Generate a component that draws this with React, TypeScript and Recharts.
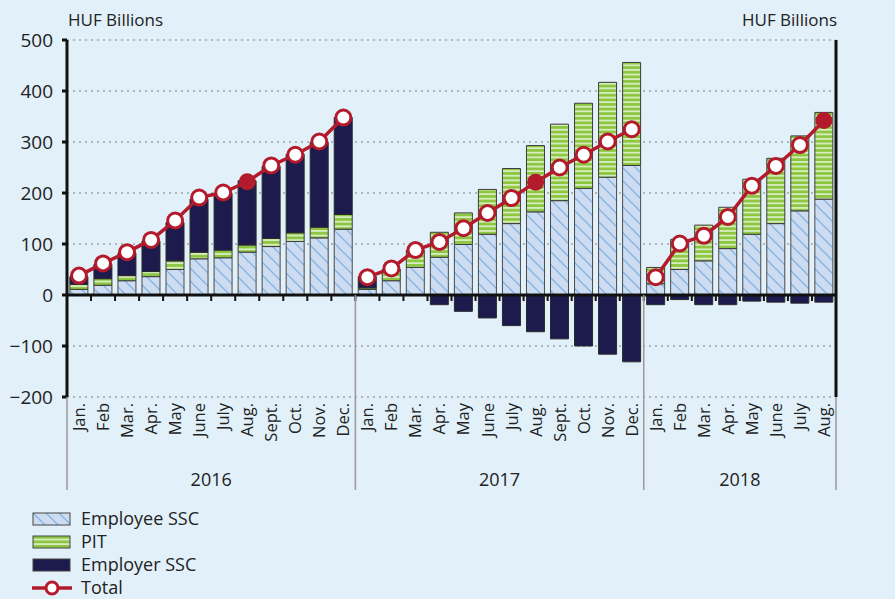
import React from 'react';
import {
  ComposedChart,
  Bar,
  Line,
  XAxis,
  YAxis,
  CartesianGrid,
  ReferenceLine,
} from 'recharts';

const years = ['2016', '2017', '2018'];
const monthsPerYear = [12, 12, 8];
const months = ['Jan.', 'Feb', 'Mar.', 'Apr.', 'May', 'June', 'July', 'Aug.', 'Sept.', 'Oct.', 'Nov.', 'Dec.'];

const employeeSSC = [
  11, 19, 28, 36, 50, 71, 73, 84, 95, 105, 112, 129,
  11, 28, 54, 74, 99, 119, 140, 163, 185, 209, 231, 254,
  22, 50, 67, 91, 119, 140, 165, 188,
];
const pit = [
  10, 13, 10, 10, 17, 13, 15, 14, 16, 17, 21, 29,
  3, 20, 34, 49, 62, 88, 108, 130, 150, 167, 186, 202,
  32, 59, 70, 81, 108, 128, 147, 170,
];
const employerSSC = [
  15, 28, 44, 60, 75, 104, 111, 126, 141, 154, 166, 190,
  22, 2, 0, -19, -32, -45, -60, -72, -86, -100, -116, -131,
  -19, -9, -19, -19, -12, -14, -16, -14,
];
const total = [
  38, 62, 84, 108, 146, 191, 201, 222, 254, 275, 301, 348,
  35, 52, 88, 104, 131, 161, 190, 221, 250, 275, 301, 325,
  35, 101, 116, 153, 214, 253, 294, 342,
];
const yTicks = [-200, -100, 0, 100, 200, 300, 400, 500];

const categories = years.flatMap((year, yi) =>
  months.slice(0, monthsPerYear[yi]).map((month) => ({ year, month }))
);

// the total line is broken between years, so one line per year
const data = categories.map((c, i) => {
  const row: any = {
    key: `${c.year}-${c.month}`,
    year: c.year,
    month: c.month,
    employee: employeeSSC[i],
    pit: pit[i],
    employer: employerSSC[i],
  };
  years.forEach((y) => {
    row[`total${y}`] = c.year === y ? total[i] : null;
  });
  return row;
});

// layout
const CHART_W = 895;
const CHART_H = 500;
const LEFT_W = 67;
const RIGHT_W = 59;
const PLOT_TOP = 40;
const XAXIS_H = 103;
const PLOT_H = CHART_H - PLOT_TOP - XAXIS_H;
const PLOT_W = CHART_W - LEFT_W - RIGHT_W;
const BAND = PLOT_W / data.length;
const ZERO_Y = PLOT_TOP + (PLOT_H * 500) / 700;
const SEP_BOTTOM = 490;

const BG = '#e1f0f9';
const RED = '#b31b2c';
const NAVY = '#1d1b4d';
const FONT = "'Open Sans', 'Noto Sans', sans-serif";

const fmt = (v: number) => (v < 0 ? `\u2212${Math.abs(v)}` : `${v}`);

function ValueTick(props: any) {
  const { x, y, payload, side } = props;
  return (
    <text
      x={side === 'right' ? x : x}
      y={y}
      dy="0.35em"
      textAnchor={side === 'right' ? 'start' : 'end'}
      fill="#222"
      fontSize={19}
      fontFamily={FONT}
    >
      {fmt(payload.value)}
    </text>
  );
}

function MonthTick(props: any) {
  const { x, y, payload } = props;
  const i = payload.index ?? props.index;
  const d = data[i];
  if (!d) return null;
  const left = x - BAND / 2;
  const right = x + BAND / 2;
  const yi = years.indexOf(d.year);
  const start = monthsPerYear.slice(0, yi).reduce((a, b) => a + b, 0);
  const isFirst = i === start;
  const mid = Math.floor((monthsPerYear[yi] - 1) / 2) + start;
  return (
    <g>
      <line x1={left} x2={left} y1={ZERO_Y} y2={ZERO_Y + 6} stroke="#111" strokeWidth={2} />
      {i === data.length - 1 && (
        <line x1={right} x2={right} y1={ZERO_Y} y2={ZERO_Y + 6} stroke="#111" strokeWidth={2} />
      )}
      {isFirst && (
        <line x1={left} x2={left} y1={i === 0 ? y : ZERO_Y} y2={SEP_BOTTOM} stroke="#9a9a9a" strokeWidth={1.5} />
      )}
      {i === data.length - 1 && (
        <line x1={right} x2={right} y1={y} y2={SEP_BOTTOM} stroke="#9a9a9a" strokeWidth={1.5} />
      )}
      <g transform={`translate(${x},${y})`}>
        <text
          transform="rotate(-90)"
          x={-6}
          dy="0.36em"
          textAnchor="end"
          fill="#222"
          fontSize={16.5}
          fontFamily={FONT}
        >
          {d.month}
        </text>
      </g>
      {i === mid && (
        <text
          x={monthsPerYear[yi] % 2 === 0 ? right : x}
          y={y + 89}
          textAnchor="middle"
          fill="#222"
          fontSize={18}
          fontFamily={FONT}
        >
          {d.year}
        </text>
      )}
    </g>
  );
}

function TotalDot(props: any) {
  const { cx, cy, index, payload } = props;
  if (cx == null || cy == null) return <g key={`dot-${index}`} />;
  const filled = payload.month === 'Aug.';
  return (
    <circle
      key={`dot-${index}`}
      cx={cx}
      cy={cy}
      r={filled ? 8.5 : 7.5}
      fill={filled ? RED : '#fff'}
      stroke={RED}
      strokeWidth={filled ? 0 : 3}
    />
  );
}

function Swatch({ kind }: { kind: string }) {
  return (
    <svg width={42} height={16} style={{ display: 'block' }}>
      {kind === 'line' ? (
        <g>
          <line x1={1} x2={41} y1={8} y2={8} stroke={RED} strokeWidth={3.5} />
          <circle cx={21} cy={8} r={6} fill="#fff" stroke={RED} strokeWidth={3} />
        </g>
      ) : (
        <rect
          x={2}
          y={2}
          width={37}
          height={12}
          fill={kind === 'employee' ? 'url(#legEmp)' : kind === 'pit' ? 'url(#legPit)' : NAVY}
          stroke="#444"
          strokeWidth={1}
        />
      )}
    </svg>
  );
}

const legendItems = [
  { kind: 'employee', label: 'Employee SSC' },
  { kind: 'pit', label: 'PIT' },
  { kind: 'employer', label: 'Employer SSC' },
  { kind: 'line', label: 'Total' },
];

const hatchPath = 'M0,0 L13,13 M-4,9 L4,17 M9,-4 L17,4';

export default function App() {
  return (
    <div
      style={{
        position: 'fixed',
        left: 0,
        top: 0,
        width: CHART_W,
        height: 599,
        background: BG,
        fontFamily: FONT,
        overflow: 'hidden',
      }}
    >
      <svg width={0} height={0} style={{ position: 'absolute' }}>
        <defs>
          <pattern id="legEmp" patternUnits="userSpaceOnUse" width={13} height={13}>
            <rect width={13} height={13} fill="#cddcf1" />
            <path d={hatchPath} stroke="#82b5e3" strokeWidth={1.3} />
          </pattern>
          <pattern id="legPit" patternUnits="userSpaceOnUse" width={5} height={4.6}>
            <rect width={5} height={4.6} fill="#8cc63f" />
            <rect y={0} width={5} height={1.9} fill="#d5ecbc" />
          </pattern>
        </defs>
      </svg>

      <div style={{ position: 'absolute', left: 68, top: 8, fontSize: 17, color: '#222' }}>HUF Billions</div>
      <div style={{ position: 'absolute', right: CHART_W - 837, top: 8, fontSize: 17, color: '#222' }}>
        HUF Billions
      </div>

      <ComposedChart
        width={CHART_W}
        height={CHART_H}
        data={data}
        stackOffset="sign"
        barCategoryGap="12%"
        margin={{ top: PLOT_TOP, right: 0, bottom: 0, left: 0 }}
      >
        <defs>
          <pattern id="empHatch" patternUnits="userSpaceOnUse" width={13} height={13}>
            <rect width={13} height={13} fill="#cddcf1" />
            <path d={hatchPath} stroke="#82b5e3" strokeWidth={1.3} />
          </pattern>
          <pattern id="pitStripe" patternUnits="userSpaceOnUse" width={5} height={4.6}>
            <rect width={5} height={4.6} fill="#8cc63f" />
            <rect y={0} width={5} height={1.9} fill="#d5ecbc" />
          </pattern>
        </defs>
        <CartesianGrid vertical={false} stroke="#7d7d7d" strokeDasharray="2 4" yAxisId="left" />
        <XAxis
          dataKey="key"
          interval={0}
          height={XAXIS_H}
          axisLine={false}
          tickLine={false}
          tickSize={0}
          tickMargin={0}
          tick={<MonthTick />}
        />
        <YAxis
          yAxisId="left"
          domain={[-200, 500]}
          ticks={yTicks}
          width={LEFT_W}
          axisLine={{ stroke: '#111', strokeWidth: 3 }}
          tickLine={{ stroke: '#111', strokeWidth: 3 }}
          tickSize={5}
          tickMargin={9}
          tick={<ValueTick side="left" />}
        />
        <YAxis
          yAxisId="right"
          orientation="right"
          domain={[-200, 500]}
          ticks={yTicks}
          width={RIGHT_W}
          axisLine={{ stroke: '#111', strokeWidth: 3 }}
          tickLine={{ stroke: '#111', strokeWidth: 3 }}
          tickSize={5}
          tickMargin={7}
          tick={<ValueTick side="right" />}
        />
        <Bar yAxisId="left" dataKey="employee" stackId="a" fill="url(#empHatch)" stroke="#4a4a4a" strokeWidth={1} isAnimationActive={false} />
        <Bar yAxisId="left" dataKey="pit" stackId="a" fill="url(#pitStripe)" stroke="#3c3c3c" strokeWidth={1} isAnimationActive={false} />
        <Bar yAxisId="left" dataKey="employer" stackId="a" fill={NAVY} stroke="#2a2a2a" strokeWidth={1} isAnimationActive={false} />
        <ReferenceLine yAxisId="left" y={0} stroke="#111" strokeWidth={3} />
        {years.map((y) => (
          <Line
            key={y}
            yAxisId="left"
            dataKey={`total${y}`}
            stroke={RED}
            strokeWidth={3.5}
            dot={TotalDot}
            activeDot={false}
            connectNulls={false}
            isAnimationActive={false}
          />
        ))}
      </ComposedChart>

      <div style={{ position: 'absolute', left: 31, top: 507 }}>
        {legendItems.map((it) => (
          <div key={it.label} style={{ display: 'flex', alignItems: 'center', height: 23 }}>
            <Swatch kind={it.kind} />
            <span style={{ marginLeft: 8, fontSize: 18, color: '#222', lineHeight: '23px' }}>{it.label}</span>
          </div>
        ))}
      </div>
    </div>
  );
}
